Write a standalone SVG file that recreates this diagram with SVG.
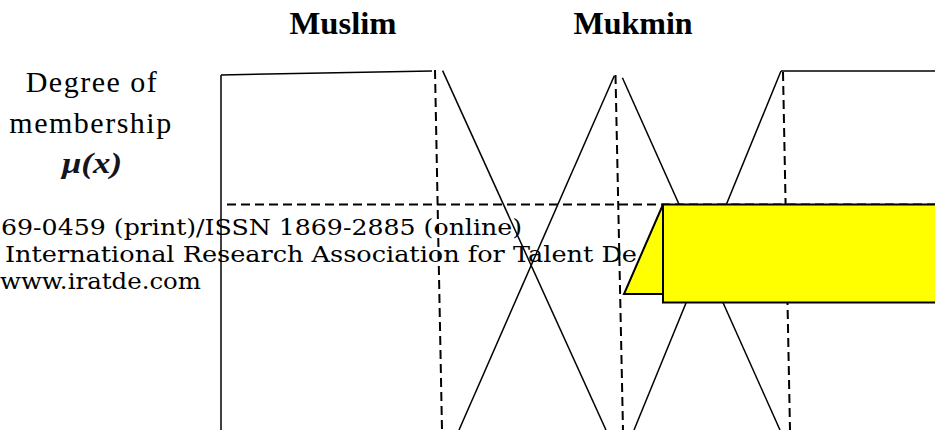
<svg xmlns="http://www.w3.org/2000/svg" width="935" height="430" viewBox="0 0 935 430">
<style>
.solid{stroke:#000;stroke-width:1.5;fill:none}
.dash{stroke:#000;stroke-width:2;fill:none;stroke-dasharray:9 5}
.title{font-family:"Liberation Serif","Times New Roman",serif;font-weight:bold;font-size:32px;fill:#000;text-anchor:middle}
.axis{font-family:"Liberation Serif","Times New Roman",serif;font-size:30px;fill:#000;text-anchor:middle;letter-spacing:1.5px}
.issn{font-family:"DejaVu Serif",serif;font-size:23px;fill:#000}
.yellow{fill:#ffff00;stroke:#000;stroke-width:2}
</style>
<rect width="935" height="430" fill="#fff"/>
<g id="titles">
<text class="title" x="343" y="34" textLength="107" lengthAdjust="spacingAndGlyphs">Muslim</text>
<text class="title" x="633" y="34">Mukmin</text>
</g>
<g id="axis-label">
<text class="axis" x="92" y="92">Degree of</text>
<text class="axis" x="91" y="133">membership</text>
<text x="92" y="173" font-family="'Liberation Serif',serif" font-weight="bold" font-style="italic" font-size="30" fill="#141420" text-anchor="middle" textLength="60" lengthAdjust="spacingAndGlyphs">μ(x)</text>
</g>
<g id="connectors">
<line class="solid" x1="221" y1="75" x2="221" y2="430"/>
<line class="solid" x1="221" y1="75" x2="432" y2="71"/>
<line class="solid" x1="442.6" y1="70.6" x2="606" y2="430"/>
<line class="solid" x1="459" y1="430" x2="614.3" y2="75.7"/>
<line class="solid" x1="622.4" y1="77.8" x2="780" y2="430"/>
<line class="solid" x1="634" y1="430" x2="781" y2="71"/>
<line class="solid" x1="781" y1="71" x2="935" y2="71"/>
<line class="dash" x1="435" y1="70" x2="442" y2="430"/>
<line class="dash" x1="615.5" y1="75" x2="623" y2="430"/>
<line class="dash" x1="783" y1="72" x2="790" y2="430"/>
<line class="dash" x1="227" y1="204.5" x2="935" y2="204.5"/>
</g>
<g id="issn-text">
<text class="issn" x="1" y="235" textLength="521" lengthAdjust="spacingAndGlyphs">69-0459 (print)/ISSN 1869-2885 (online)</text>
<text class="issn" x="5" y="262" textLength="632" lengthAdjust="spacingAndGlyphs">International Research Association for Talent De</text>
<text class="issn" x="0" y="289" textLength="201" lengthAdjust="spacingAndGlyphs">www.iratde.com</text>
</g>
<g id="yellow-banner">
<polygon class="yellow" points="663,204.5 624,294 663,294"/>
<rect class="yellow" x="663" y="204.5" width="280" height="98"/>
</g>
</svg>
